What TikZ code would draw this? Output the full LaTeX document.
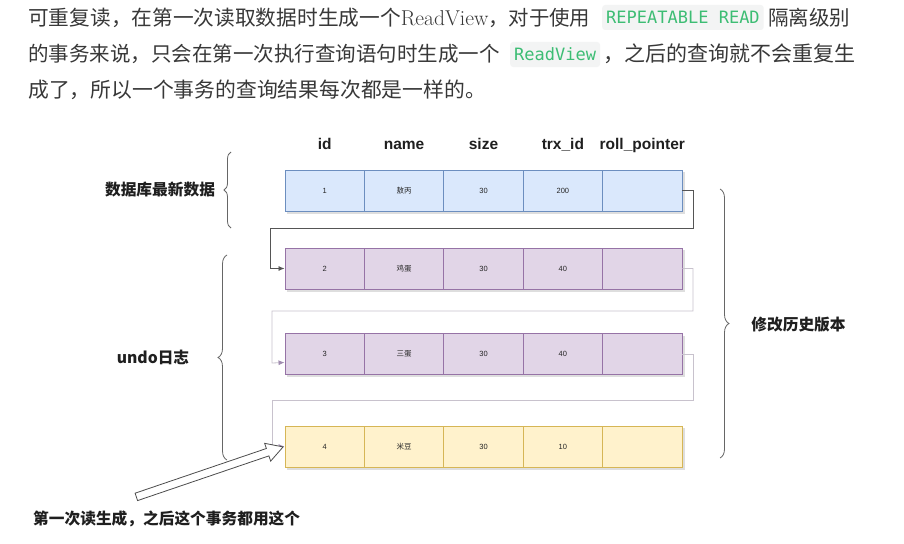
\documentclass[tikz,border=0pt]{standalone}
\usepackage{fontspec}
\newfontfamily\cjk{Noto Sans CJK SC}
\newfontfamily\codefont{DejaVu Sans Mono}
\newfontfamily\hfont{Liberation Sans}
\usetikzlibrary{arrows.meta,decorations.pathreplacing,shapes.arrows}
\definecolor{txt}{HTML}{383838}
\definecolor{codebg}{HTML}{F3F4F4}
\definecolor{codefg}{HTML}{3DBD74}
\definecolor{bfill}{HTML}{DAE8FC}\definecolor{bdraw}{HTML}{6C8EBF}
\definecolor{pfill}{HTML}{E1D5E7}\definecolor{pdraw}{HTML}{9673A6}
\definecolor{yfill}{HTML}{FFF2CC}\definecolor{ydraw}{HTML}{D6B656}
\definecolor{darkline}{HTML}{555555}
\definecolor{lightline}{HTML}{C8C2CD}
\definecolor{lightarrow}{HTML}{A08CB0}
\newcommand\fs[1]{\fontsize{#1}{#1}\selectfont}
\begin{document}
\begin{tikzpicture}[x=1pt,y=-1pt,
  para/.style={anchor=base west, inner sep=0pt, text=txt},
  codebox/.style={anchor=west, fill=codebg, rounded corners=3pt, inner xsep=4pt, inner ysep=0pt, minimum height=25pt, text=codefg, font=\codefont\fs{17}},
  cell/.style={line width=0.9pt, minimum width=79.4pt, minimum height=41pt, inner sep=0pt, font=\hfont\fs{7.5}, text=black!85},
  rowb/.style={cell, fill=bfill, draw=bdraw},
  rowp/.style={cell, fill=pfill, draw=pdraw},
  rowy/.style={cell, fill=yfill, draw=ydraw},
  hdr/.style={anchor=base, font=\hfont\bfseries\fs{15.5}, text=black!88, inner sep=0pt},
  lbl/.style={font=\cjk\bfseries\fs{15.7}, text=black!88, inner sep=0pt},
  brc/.style={draw=black!60, line width=0.8pt, decorate, decoration={brace, amplitude=#1}},
  darkconn/.style={draw=darkline, line width=0.8pt, -{Latex[length=6pt,width=5pt]}},
  lightconn/.style={draw=lightline, line width=0.8pt, -{Latex[length=6pt,width=5pt,color=lightarrow]}},
]
\useasboundingbox[fill=white] (0,0) rectangle (904,543);

% paragraph
\node[para, font=\cjk\fs{20.7}] (p1a) at (28,25.5) {可重复读，在第一次读取数据时生成一个{\rmfamily\fs{21.5}ReadView}{\fs{20.4}，对于使用}};
\node[codebox] (c1) at (602,17.5) {REPEATABLE READ};
\node[para, font=\cjk\fs{20.5}] (p1b) at (768,25.5) {隔离级别};
\node[para, font=\cjk\fs{20.5}] (p2a) at (28,61) {的事务来说，只会在第一次执行查询语句时生成一个};
\node[codebox] (c2) at (510,54.5) {ReadView};
\node[para, font=\cjk\fs{21}] (p2b) at (603,61) {，之后的查询就不会重复生};
\node[para, font=\cjk\fs{20.8}] (p3) at (28,97) {成了，所以一个事务的查询结果每次都是一样的。};

% headers
\node[hdr] (h1) at (324.7,149) {id};
\node[hdr] (h2) at (404.1,149) {name};
\node[hdr] (h3) at (483.5,149) {size};
\node[hdr] (h4) at (562.9,149) {trx\_id};
\node[hdr] (h5) at (642.3,149) {roll\_pointer};

% rows
\foreach \r/\y/\st/\a/\b/\c/\d in {1/190.5/rowb/1/敖丙/30/200, 2/268.5/rowp/2/鸡蛋/30/40, 3/354/rowp/3/三蛋/30/40, 4/446.5/rowy/4/米豆/30/10} {
  \fill[black, opacity=0.13] (287,\y-18.5) rectangle (684.5,\y+23);
  \node[\st] (r\r c1) at (324.7,\y) {\a};
  \node[\st] (r\r c2) at (404.1,\y) {\cjk\b};
  \node[\st] (r\r c3) at (483.5,\y) {\c};
  \node[\st] (r\r c4) at (562.9,\y) {\d};
  \node[\st] (r\r c5) at (642.3,\y) {};
}

% connectors
\coordinate (t1) at (693,228);
\coordinate (u1) at (270,268.5);
\coordinate (t2) at (693,311);
\coordinate (u2) at (272,363);
\coordinate (t3) at (693,400);
\coordinate (u3) at (272,446.5);
\draw[darkconn] (r1c5.east) -| (t1) -| (u1) -- (r2c1.west);
\draw[lightconn] (r2c5.east) -| (t2) -| (u2) -- ([yshift=-8.5pt]r3c1.west);
\draw[lightconn] (r3c5.east) -| (t3) -| (u3) -- (r4c1.west);

% braces and labels
\draw[brc=7pt] (231,228) -- (231,152);
\node[lbl] (l1) at (160,190) {数据库最新数据};
\draw[brc=9pt] (227,460) -- (227,255);
\node[lbl] (l2) at (153,357) {undo日志};
\draw[brc=9pt] (720,189) -- (720,458);
\node[lbl] (l3) at (798.5,325) {修改历史版本};

% hollow arrow and note
\node[single arrow, draw=black!70, fill=white, line width=0.8pt, minimum width=18pt,
      single arrow head extend=5.5pt, single arrow tip angle=60, minimum height=155pt,
      inner xsep=0pt, inner ysep=3.5pt, rotate=18.8] (ha) at (206.5,473) {};
\node[lbl, anchor=west] (l4) at (33,519) {第一次读生成，之后这个事务都用这个};
\end{tikzpicture}
\end{document}
